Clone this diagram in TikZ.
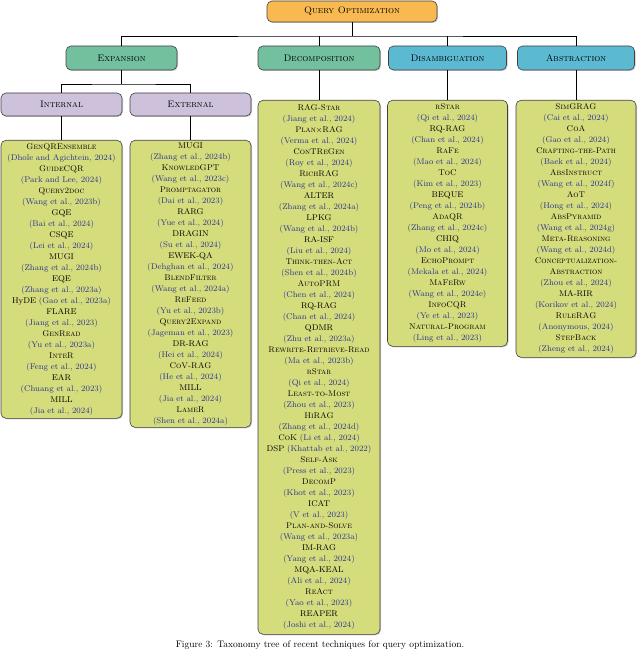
\documentclass[tikz,border=0pt]{standalone}
\usetikzlibrary{shadows}
\definecolor{rootc}{HTML}{F8BA50}
\definecolor{greenc}{HTML}{72C09E}
\definecolor{bluec}{HTML}{5CB9D2}
\definecolor{lavc}{HTML}{CDC1DB}
\definecolor{leafc}{HTML}{D5DC7C}
\definecolor{citec}{HTML}{2A3590}
\newcommand{\ct}[1]{\textcolor{citec}{(#1)}}
\tikzset{
 base/.style={draw=black!75, rounded corners=5pt, line width=0.6pt, drop shadow={shadow xshift=1pt,shadow yshift=-1pt,opacity=0.4}, inner sep=0pt, align=center},
 rootbox/.style={base, fill=rootc, minimum width=170pt, minimum height=21pt, font=\fontsize{9.5}{11}\selectfont\scshape},
 lone/.style={base, minimum height=24pt, font=\fontsize{9.5}{11}\selectfont\scshape},
 leaf/.style={base, fill=leafc, anchor=north, font=\fontsize{8.3}{11}\selectfont, text width=118pt},
 conn/.style={line width=0.8pt},
}
\begin{document}
\begin{tikzpicture}[x=1pt,y=-1pt]
\clip (0,0) rectangle (640,652);
\useasboundingbox (0,0) rectangle (640,652);
\node[rootbox] (root) at (352,11.5) {Query Optimization};
\node[lone, fill=greenc, minimum width=111pt] (exp) at (121.5,58) {Expansion};
\node[lone, fill=greenc, minimum width=122pt] (dec) at (319,58) {Decomposition};
\node[lone, fill=bluec, minimum width=118pt] (dis) at (447.5,58) {Disambiguation};
\node[lone, fill=bluec, minimum width=117pt] (abs) at (576,58) {Abstraction};
\node[lone, fill=lavc, minimum width=121pt, minimum height=23pt] (int) at (61.5,104.5) {Internal};
\node[lone, fill=lavc, minimum width=121pt, minimum height=23pt] (ext) at (190.5,104.5) {External};

\node[leaf, minimum height=278pt, text width=121pt] (lint) at (61.5,140) {\textsc{GenQREnsemble}\\\ct{Dhole and Agichtein, 2024}\\\textsc{GuideCQR}\\\ct{Park and Lee, 2024}\\\textsc{Query2doc}\\\ct{Wang et al., 2023b}\\GQE\\\ct{Bai et al., 2024}\\CSQE\\\ct{Lei et al., 2024}\\MUGI\\\ct{Zhang et al., 2024b}\\EQE\\\ct{Zhang et al., 2023a}\\HyDE \ct{Gao et al., 2023a}\\FLARE\\\ct{Jiang et al., 2023}\\\textsc{GenRead}\\\ct{Yu et al., 2023a}\\\textsc{InteR}\\\ct{Feng et al., 2024}\\EAR\\\ct{Chuang et al., 2023}\\MILL\\\ct{Jia et al., 2024}};
\node[leaf, minimum height=287pt, text width=121pt] (lext) at (190.5,140) {MUGI\\\ct{Zhang et al., 2024b}\\\textsc{KnowledGPT}\\\ct{Wang et al., 2023c}\\\textsc{Promptagator}\\\ct{Dai et al., 2023}\\RARG\\\ct{Yue et al., 2024}\\DRAGIN\\\ct{Su et al., 2024}\\EWEK-QA\\\ct{Dehghan et al., 2024}\\\textsc{BlendFilter}\\\ct{Wang et al., 2024a}\\\textsc{ReFeed}\\\ct{Yu et al., 2023b}\\\textsc{Query2Expand}\\\ct{Jageman et al., 2023}\\DR-RAG\\\ct{Hei et al., 2024}\\\textsc{CoV-RAG}\\\ct{He et al., 2024}\\MILL\\\ct{Jia et al., 2024}\\\textsc{LameR}\\\ct{Shen et al., 2024a}};
\node[leaf, minimum height=534pt, text width=122pt] (ldec) at (319,100) {\textsc{RAG-Star}\\\ct{Jiang et al., 2024}\\\textsc{Plan}$\times$\textsc{RAG}\\\ct{Verma et al., 2024}\\\textsc{ConTReGen}\\\ct{Roy et al., 2024}\\\textsc{RichRAG}\\\ct{Wang et al., 2024c}\\ALTER\\\ct{Zhang et al., 2024a}\\LPKG\\\ct{Wang et al., 2024b}\\RA-ISF\\\ct{Liu et al., 2024}\\\textsc{Think-then-Act}\\\ct{Shen et al., 2024b}\\\textsc{AutoPRM}\\\ct{Chen et al., 2024}\\RQ-RAG\\\ct{Chan et al., 2024}\\QDMR\\\ct{Zhu et al., 2023a}\\\textsc{Rewrite-Retrieve-Read}\\\ct{Ma et al., 2023b}\\\textsc{rStar}\\\ct{Qi et al., 2024}\\\textsc{Least-to-Most}\\\ct{Zhou et al., 2023}\\\textsc{HiRAG}\\\ct{Zhang et al., 2024d}\\\textsc{CoK} \ct{Li et al., 2024}\\DSP \ct{Khattab et al., 2022}\\\textsc{Self-Ask}\\\ct{Press et al., 2023}\\\textsc{DecomP}\\\ct{Khot et al., 2023}\\ICAT\\\ct{V et al., 2023}\\\textsc{Plan-and-Solve}\\\ct{Wang et al., 2023a}\\IM-RAG\\\ct{Yang et al., 2024}\\MQA-KEAL\\\ct{Ali et al., 2024}\\\textsc{ReAct}\\\ct{Yao et al., 2023}\\REAPER\\\ct{Joshi et al., 2024}};
\node[leaf, minimum height=246pt, text width=120pt] (ldis) at (447.5,100) {\textsc{rStar}\\\ct{Qi et al., 2024}\\RQ-RAG\\\ct{Chan et al., 2024}\\\textsc{RaFe}\\\ct{Mao et al., 2024}\\\textsc{ToC}\\\ct{Kim et al., 2023}\\BEQUE\\\ct{Peng et al., 2024b}\\\textsc{AdaQR}\\\ct{Zhang et al., 2024c}\\CHIQ\\\ct{Mo et al., 2024}\\\textsc{EchoPrompt}\\\ct{Mekala et al., 2024}\\\textsc{MaFeRw}\\\ct{Wang et al., 2024e}\\\textsc{InfoCQR}\\\ct{Ye et al., 2023}\\\textsc{Natural-Program}\\\ct{Ling et al., 2023}};
\node[leaf, minimum height=257pt, text width=120pt] (labs) at (576,100) {\textsc{SimGRAG}\\\ct{Cai et al., 2024}\\\textsc{CoA}\\\ct{Gao et al., 2024}\\\textsc{Crafting-the-Path}\\\ct{Baek et al., 2024}\\\textsc{AbsInstruct}\\\ct{Wang et al., 2024f}\\\textsc{AoT}\\\ct{Hong et al., 2024}\\\textsc{AbsPyramid}\\\ct{Wang et al., 2024g}\\\textsc{Meta-Reasoning}\\\ct{Wang et al., 2024d}\\\textsc{Conceptualization-}\\\textsc{Abstraction}\\\ct{Zhou et al., 2024}\\MA-RIR\\\ct{Korikov et al., 2024}\\\textsc{RuleRAG}\\\ct{Anonymous, 2024}\\\textsc{StepBack}\\\ct{Zheng et al., 2024}};

\coordinate (j0) at (352,36);
\coordinate (j1) at (121.5,84);
\draw[conn] (root.south) -- (j0);
\draw[conn] (exp.north) |- (j0) -| (abs.north);
\draw[conn] (dec.north) -- (dec.north |- j0);
\draw[conn] (dis.north) -- (dis.north |- j0);
\draw[conn] (exp.south) -- (j1);
\draw[conn] (int.north) |- (j1) -| (ext.north);
\draw[conn] (int.south) -- (lint.north);
\draw[conn] (ext.south) -- (lext.north);
\draw[conn] (dec.south) -- (ldec.north);
\draw[conn] (dis.south) -- (ldis.north);
\draw[conn] (abs.south) -- (labs.north);
\node[font=\fontsize{9.5}{11}\selectfont, anchor=north, inner sep=1pt] (cap) at (320,640) {Figure 3: Taxonomy tree of recent techniques for query optimization.};
\end{tikzpicture}
\end{document}
